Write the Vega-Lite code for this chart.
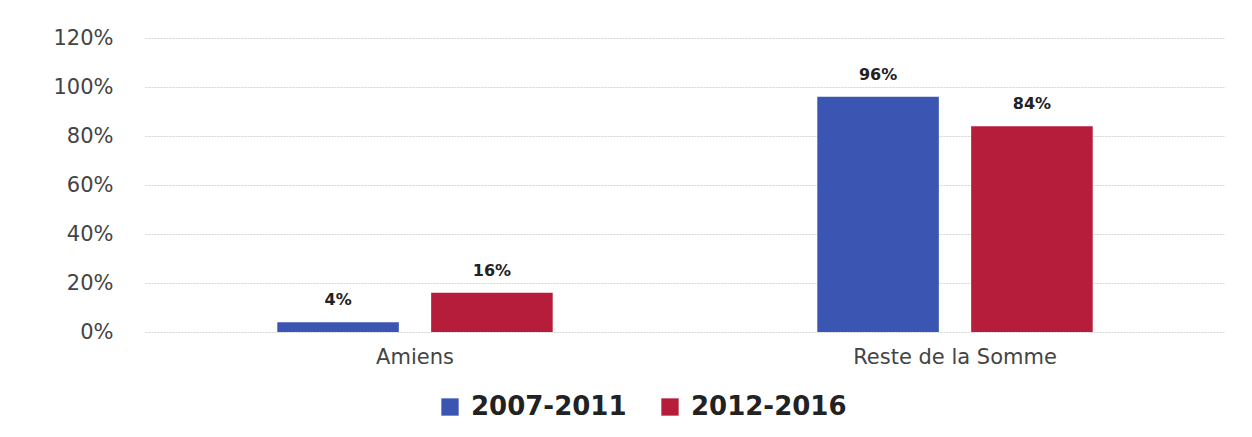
{
  "$schema": "https://vega.github.io/schema/vega-lite/v6.json",
  "autosize": "none",
  "width": 1080,
  "height": 294,
  "padding": {"left": 145, "top": 38, "right": 27, "bottom": 105},
  "background": "white",
  "config": {"view": {"stroke": null}, "font": "DejaVu Sans"},
  "data": {"values": [
    {"zone": "Amiens", "periode": "2007-2011", "part": 0.04, "label": "4%"},
    {"zone": "Amiens", "periode": "2012-2016", "part": 0.16, "label": "16%"},
    {"zone": "Reste de la Somme", "periode": "2007-2011", "part": 0.96, "label": "96%"},
    {"zone": "Reste de la Somme", "periode": "2012-2016", "part": 0.84, "label": "84%"}
  ]},
  "encoding": {
    "x": {"field": "zone", "type": "nominal", "sort": null,
      "scale": {"paddingInner": 0.49, "paddingOuter": 0.245},
      "axis": {"title": null, "labelAngle": 0, "labelFontSize": 21, "labelColor": "#444", "labelPadding": 14, "labelLimit": 0, "ticks": false, "domain": false}},
    "xOffset": {"field": "periode", "type": "nominal", "scale": {"paddingInner": 0.21, "paddingOuter": 0}},
    "y": {"field": "part", "type": "quantitative",
      "scale": {"domain": [0, 1.2], "nice": false},
      "axis": {"title": null, "format": ".0%", "values": [0, 0.2, 0.4, 0.6, 0.8, 1.0, 1.2], "labelFontSize": 21, "labelColor": "#444", "labelPadding": 32, "ticks": false, "domain": false, "gridColor": "#d4d4d4", "gridDash": [2, 1], "gridWidth": 1}}
  },
  "layer": [
    {"mark": {"type": "bar"},
     "encoding": {"color": {"field": "periode", "type": "nominal",
       "scale": {"domain": ["2007-2011", "2012-2016"], "range": ["#3a56b2", "#b61d3b"]},
       "legend": {"title": null, "orient": "none", "legendX": 292, "legendY": 356, "direction": "horizontal", "labelFontSize": 26, "labelFontWeight": "bold", "labelColor": "#222", "symbolType": "square", "symbolSize": 300, "symbolStrokeWidth": 0, "columnPadding": 30, "labelOffset": 8, "labelLimit": 0}}}},
    {"mark": {"type": "text", "dy": -14, "fontSize": 16, "fontWeight": "bold", "color": "#222", "baseline": "bottom"},
     "encoding": {"text": {"field": "label"}}}
  ]
}
